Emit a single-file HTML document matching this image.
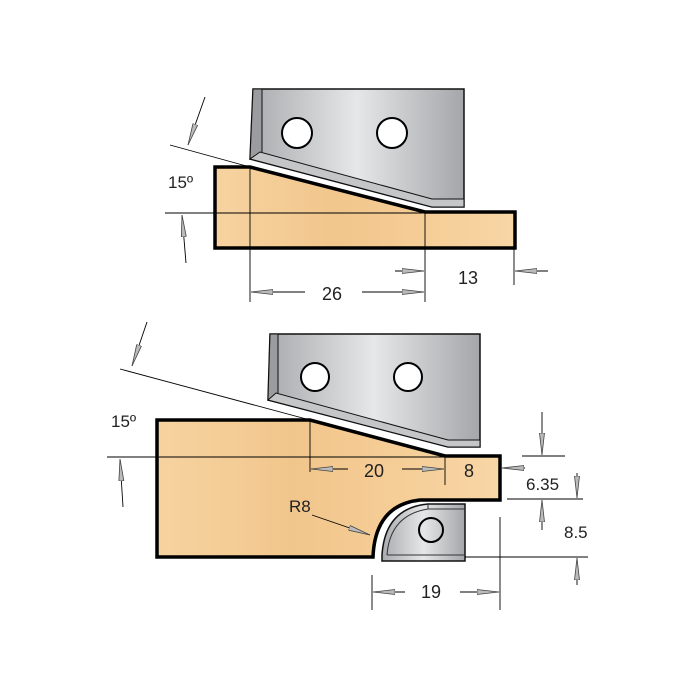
<!DOCTYPE html>
<html><head><meta charset="utf-8"><style>
html,body{margin:0;padding:0;background:#fff;width:700px;height:700px;overflow:hidden}
text{font-family:"Liberation Sans",sans-serif;fill:#222}
</style></head><body>
<svg width="700" height="700" viewBox="0 0 700 700" xmlns="http://www.w3.org/2000/svg">
<defs>
<linearGradient id="wood" x1="0" y1="0" x2="1" y2="0">
<stop offset="0" stop-color="#f7d3a0"/><stop offset="0.4" stop-color="#f1c68c"/><stop offset="0.7" stop-color="#f5cd96"/><stop offset="1" stop-color="#f8d6a6"/>
</linearGradient>
<linearGradient id="steel" x1="0" y1="0" x2="1" y2="0">
<stop offset="0" stop-color="#a9abae"/><stop offset="0.5" stop-color="#e6e7e8"/><stop offset="1" stop-color="#a4a6a9"/>
</linearGradient>
<marker id="ah" viewBox="0 0 22 8" refX="22" refY="4" markerWidth="22" markerHeight="8" markerUnits="userSpaceOnUse" orient="auto">
<path d="M0,1.5 L22,4 L0,6.5 Z" fill="#bbb" stroke="#444" stroke-width="0.8"/>
</marker>
</defs>

<!-- TOP FIGURE -->
<polygon points="215,167 250,167 425,212 515,212 515,248 215,248" fill="url(#wood)" stroke="#000" stroke-width="3.5" stroke-linejoin="miter"/>
<polygon points="253,89 464,89 464,207 432,207 250,159" fill="url(#steel)" stroke="#111" stroke-width="1.5"/>
<polygon points="250,159 262,152 262,89 253,89" fill="#9a9c9f" stroke="#111" stroke-width="1"/>
<polygon points="250,159 260,152 432,199 464,199 464,207 432,207" fill="#c4c6c8" stroke="#111" stroke-width="1"/>
<circle cx="297" cy="133" r="15" fill="#fff" stroke="#000" stroke-width="2"/>
<circle cx="392" cy="133" r="15" fill="#fff" stroke="#000" stroke-width="2"/>
<g stroke="#000" stroke-width="0.9" fill="none">
<line x1="170" y1="145" x2="250" y2="167"/>
<line x1="165" y1="213" x2="425" y2="213"/>
<line x1="250" y1="167" x2="250" y2="302"/>
<line x1="425" y1="212" x2="425" y2="302"/>
<line x1="514" y1="248" x2="514" y2="285"/>
<line x1="205" y1="97" x2="188" y2="145" marker-end="url(#ah)"/>
<line x1="186" y1="263" x2="182" y2="215" marker-end="url(#ah)"/>
<line x1="305" y1="292" x2="251" y2="292" marker-end="url(#ah)"/>
<line x1="362" y1="292" x2="424" y2="292" marker-end="url(#ah)"/>
<line x1="395" y1="271" x2="424" y2="271" marker-end="url(#ah)"/>
<line x1="548" y1="271" x2="515" y2="271" marker-end="url(#ah)"/>
</g>
<text x="168" y="188" font-size="17">15º</text>
<text x="322" y="300" font-size="18">26</text>
<text x="458" y="284" font-size="18">13</text>

<!-- BOTTOM FIGURE -->
<path d="M157,420 L310,420 L445,456 L500,456 L500,500 L420,500 Q375,505 373,557 L157,557 Z" fill="url(#wood)" stroke="#000" stroke-width="3.5"/>
<polygon points="270,334 480,334 480,447 448,447 268,400" fill="url(#steel)" stroke="#111" stroke-width="1.5"/>
<polygon points="268,400 278,393 278,334 270,334" fill="#9a9c9f" stroke="#111" stroke-width="1"/>
<polygon points="268,400 276,393 448,440 480,440 480,447 448,447" fill="#c4c6c8" stroke="#111" stroke-width="1"/>
<circle cx="315" cy="377" r="14" fill="#fff" stroke="#000" stroke-width="2"/>
<circle cx="408" cy="377" r="14" fill="#fff" stroke="#000" stroke-width="2"/>
<path d="M465,504 L465,561 L382,561 L382,555 Q385,508 428,504 Z" fill="url(#steel)" stroke="#111" stroke-width="1.5"/>
<path d="M387,555 Q390,515 428,509 L465,509" fill="none" stroke="#333" stroke-width="1"/>
<line x1="428" y1="504" x2="428" y2="509" stroke="#333"/>
<line x1="387" y1="555" x2="465" y2="555" stroke="#333" stroke-width="1"/>
<circle cx="431" cy="530" r="12" fill="none" stroke="#000" stroke-width="2"/>
<g stroke="#000" stroke-width="0.9" fill="none">
<line x1="120" y1="369" x2="310" y2="420"/>
<line x1="107" y1="457" x2="445" y2="457"/>
<line x1="310" y1="420" x2="310" y2="472"/>
<line x1="445" y1="457" x2="445" y2="485"/>
<line x1="147" y1="322" x2="132" y2="366" marker-end="url(#ah)"/>
<line x1="123" y1="507" x2="120" y2="459" marker-end="url(#ah)"/>
<line x1="348" y1="469" x2="311" y2="469" marker-end="url(#ah)"/>
<line x1="402" y1="469" x2="444" y2="469" marker-end="url(#ah)"/>
<line x1="525" y1="468" x2="502" y2="468" marker-end="url(#ah)"/>
<line x1="522" y1="456" x2="565" y2="456"/>
<line x1="542" y1="412" x2="542" y2="455" marker-end="url(#ah)"/>
<line x1="507" y1="499" x2="583" y2="499"/>
<line x1="577" y1="473" x2="577" y2="498" marker-end="url(#ah)"/>
<line x1="542" y1="530" x2="542" y2="500" marker-end="url(#ah)"/>
<line x1="465" y1="557" x2="588" y2="557"/>
<line x1="577" y1="585" x2="577" y2="558" marker-end="url(#ah)"/>
<line x1="372" y1="575" x2="372" y2="610"/>
<line x1="500" y1="517" x2="500" y2="610"/>
<line x1="405" y1="592" x2="373" y2="592" marker-end="url(#ah)"/>
<line x1="460" y1="592" x2="499" y2="592" marker-end="url(#ah)"/>
<line x1="312" y1="515" x2="370" y2="535" marker-end="url(#ah)"/>
</g>
<text x="111" y="427" font-size="17">15º</text>
<text x="364" y="477" font-size="18">20</text>
<text x="464" y="477" font-size="18">8</text>
<text x="526" y="490" font-size="17">6.35</text>
<text x="564" y="538" font-size="17">8.5</text>
<text x="289" y="512" font-size="17">R8</text>
<text x="421" y="598" font-size="18">19</text>
</svg>
</body></html>
